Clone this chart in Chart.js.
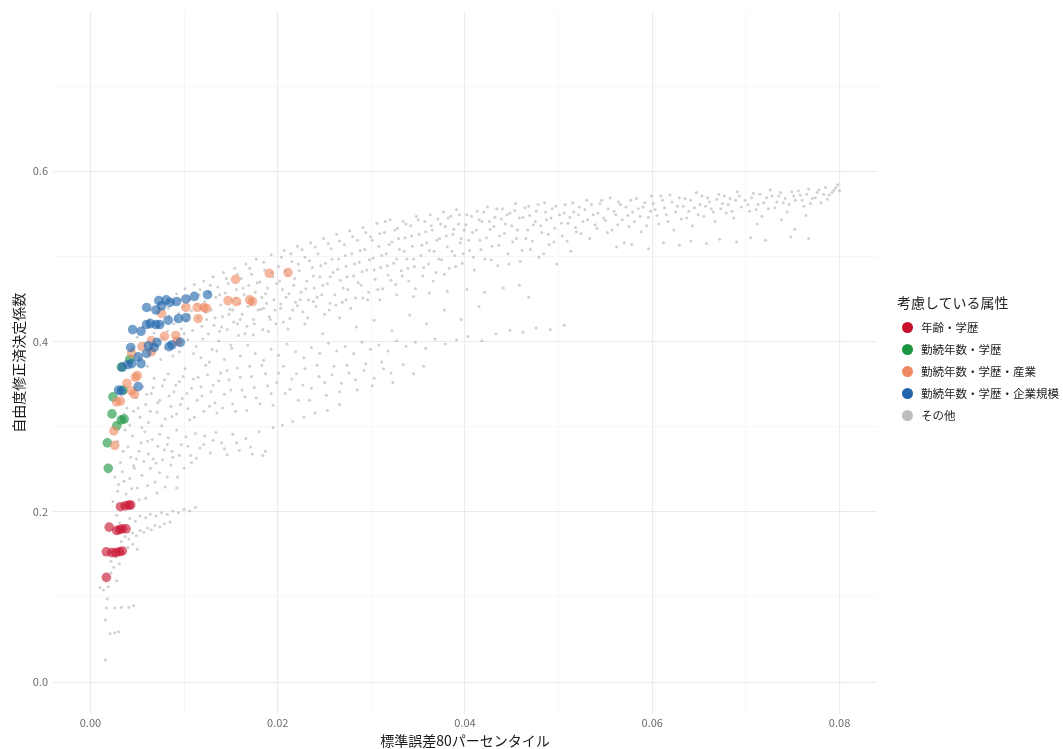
<!DOCTYPE html>
<html lang="ja">
<head>
<meta charset="utf-8">
<title>自由度修正済決定係数と標準誤差80パーセンタイル</title>
<script src="https://cdn.jsdelivr.net/npm/chart.js@4.4.1/dist/chart.umd.min.js"></script>
<style>
  html, body { margin: 0; padding: 0; background: #fff; }
  body { font-family: "Noto Sans CJK JP", "Noto Sans", sans-serif; }
  #wrap { position: relative; width: 1063px; height: 749px; }
  #legend { position: absolute; left: 897px; top: 292px; color: #222; }
  #legend .title { font-size: 14px; line-height: 21px; margin-bottom: 3px; }
  #legend .item { display: flex; align-items: center; height: 22px; font-size: 11.5px; }
  #legend .dot { width: 11px; height: 11px; border-radius: 50%; margin: 0 8px 0 5px; }
</style>
</head>
<body>
<div id="wrap">
  <canvas id="chart" width="1063" height="749"></canvas>
  <div id="legend"></div>
</div>
<script>
// Scatter: adjusted R^2 vs 80th percentile of standard errors
// values

const legendTitle = '考慮している属性';
const groupNames = ['年齢・学歴', '勤続年数・学歴', '勤続年数・学歴・産業', '勤続年数・学歴・企業規模', 'その他'];

const xMajor = [0, 0.02, 0.04, 0.06, 0.08];
const xMinor = [0.01, 0.03, 0.05, 0.07];
const yMajor = [0, 0.2, 0.4, 0.6];
const yMinor = [0.1, 0.3, 0.5, 0.7];

// 年齢・学歴
const ageEdu = [
  [0.0032,0.206],[0.0037,0.207],[0.0041,0.208],[0.0043,0.208],
  [0.0020,0.182],[0.0028,0.178],[0.0031,0.179],[0.0034,0.180],[0.0038,0.180],
  [0.0017,0.153],[0.0023,0.152],[0.0027,0.152],[0.0031,0.153],[0.0034,0.154],
  [0.0017,0.123]
];

// 勤続年数・学歴
const tenureEdu = [
  [0.0019,0.251],[0.0018,0.281],[0.0028,0.301],[0.0033,0.308],[0.0036,0.309],
  [0.0023,0.315],[0.0024,0.335],[0.0035,0.343],[0.0033,0.370],[0.0042,0.379]
];

// 勤続年数・学歴・産業
const tenureEduInd = [
  [0.0211,0.481],[0.0191,0.480],[0.0155,0.473],[0.0147,0.448],[0.0156,0.447],
  [0.0170,0.449],[0.0173,0.447],[0.0102,0.440],[0.0114,0.440],[0.0121,0.440],
  [0.0124,0.439],[0.0115,0.427],[0.0076,0.433],[0.0079,0.406],[0.0091,0.407],
  [0.0093,0.400],[0.0065,0.401],[0.0055,0.394],[0.0065,0.388],[0.0044,0.386],
  [0.0048,0.358],[0.0050,0.360],[0.0039,0.351],[0.0044,0.342],[0.0047,0.338],
  [0.0028,0.329],[0.0032,0.330],[0.0025,0.295],[0.0026,0.278]
];

// 勤続年数・学歴・企業規模
const tenureEduSize = [
  [0.0125,0.455],[0.0111,0.453],[0.0102,0.450],[0.0092,0.447],[0.0085,0.446],
  [0.0081,0.449],[0.0073,0.448],[0.0076,0.442],[0.0060,0.440],[0.0070,0.437],
  [0.0102,0.428],[0.0094,0.427],[0.0083,0.425],[0.0074,0.420],[0.0070,0.420],
  [0.0064,0.421],[0.0060,0.420],[0.0054,0.412],[0.0045,0.414],[0.0096,0.399],
  [0.0087,0.396],[0.0084,0.394],[0.0071,0.399],[0.0068,0.393],[0.0062,0.395],
  [0.0060,0.386],[0.0043,0.393],[0.0051,0.382],[0.0044,0.374],[0.0054,0.374],
  [0.0040,0.373],[0.0030,0.343],[0.0033,0.342],[0.0051,0.347],[0.0034,0.370]
];

// その他 : upper band
const otherUpper = [
  [0.0045,0.392],[0.0050,0.405],[0.0052,0.381],[0.0056,0.417],[0.0058,0.398],[0.0061,0.371],[0.0063,0.426],[0.0066,0.389],[0.0068,0.410],[0.0071,0.435],[0.0073,0.401],[0.0075,0.379],[0.0077,0.421],[0.0079,0.443],[0.0080,0.392],
  [0.0082,0.412],[0.0084,0.430],[0.0085,0.398],[0.0087,0.447],[0.0089,0.421],[0.0090,0.404],[0.0092,0.456],[0.0094,0.433],[0.0095,0.388],[0.0097,0.415],[0.0099,0.441],[0.0101,0.462],[0.0102,0.425],[0.0104,0.402],[0.0106,0.449],[0.0108,0.436],[0.0109,0.413],[0.0111,0.467],[0.0113,0.394],[0.0115,0.428],[0.0116,0.455],[0.0118,0.440],[0.0119,0.418],
  [0.0121,0.471],[0.0122,0.447],[0.0124,0.426],[0.0126,0.409],[0.0127,0.458],[0.0129,0.437],[0.0131,0.476],[0.0132,0.419],[0.0134,0.452],[0.0136,0.464],[0.0137,0.401],[0.0139,0.443],[0.0141,0.429],[0.0142,0.481],[0.0144,0.457],[0.0146,0.414],[0.0147,0.468],[0.0149,0.438],[0.0151,0.449],[0.0153,0.423],[0.0154,0.486],[0.0156,0.461],[0.0158,0.407],[0.0159,0.445],
  [0.0161,0.474],[0.0162,0.432],[0.0164,0.455],[0.0166,0.491],[0.0167,0.418],[0.0169,0.466],[0.0171,0.443],[0.0172,0.479],[0.0174,0.426],[0.0176,0.458],[0.0177,0.497],[0.0179,0.437],[0.0181,0.470],[0.0183,0.452],[0.0184,0.414],[0.0186,0.484],[0.0188,0.445],[0.0189,0.463],[0.0191,0.429],[0.0193,0.502],[0.0195,0.476],[0.0196,0.449],[0.0198,0.421],[0.0199,0.468],
  [0.0201,0.488],[0.0203,0.439],[0.0205,0.461],[0.0207,0.507],[0.0209,0.452],[0.0211,0.478],[0.0213,0.427],[0.0215,0.494],[0.0217,0.466],[0.0219,0.446],[0.0221,0.512],[0.0223,0.483],[0.0225,0.458],[0.0227,0.435],[0.0229,0.499],[0.0231,0.471],[0.0233,0.449],[0.0235,0.516],[0.0237,0.487],[0.0239,0.463],[0.0241,0.441],[0.0243,0.503],[0.0245,0.476],[0.0247,0.455],[0.0249,0.521],
  [0.0251,0.492],[0.0253,0.468],[0.0255,0.437],[0.0257,0.509],[0.0259,0.481],[0.0261,0.455],[0.0263,0.526],[0.0265,0.497],[0.0267,0.472],[0.0269,0.446],[0.0271,0.514],[0.0273,0.488],[0.0275,0.461],[0.0277,0.530],[0.0279,0.503],[0.0281,0.477],[0.0283,0.451],[0.0285,0.519],[0.0287,0.493],[0.0289,0.466],[0.0291,0.534],[0.0293,0.508],[0.0295,0.484],[0.0297,0.458],[0.0299,0.523],
  [0.0302,0.498],[0.0304,0.473],[0.0306,0.539],[0.0308,0.512],[0.0310,0.487],[0.0312,0.462],[0.0314,0.528],[0.0316,0.503],[0.0318,0.478],[0.0320,0.543],[0.0322,0.517],[0.0324,0.492],[0.0326,0.467],[0.0328,0.533],[0.0330,0.508],[0.0332,0.483],[0.0334,0.541],[0.0336,0.522],[0.0338,0.497],[0.0340,0.471],[0.0342,0.536],[0.0344,0.512],[0.0346,0.488],[0.0348,0.547],
  [0.0351,0.526],[0.0353,0.501],[0.0355,0.477],[0.0357,0.541],[0.0359,0.516],[0.0361,0.491],[0.0363,0.549],[0.0365,0.531],[0.0367,0.506],[0.0369,0.481],[0.0371,0.544],[0.0373,0.521],[0.0375,0.496],[0.0377,0.552],[0.0379,0.535],[0.0381,0.511],[0.0383,0.486],[0.0385,0.547],[0.0387,0.526],[0.0389,0.501],[0.0391,0.555],[0.0393,0.538],[0.0395,0.516],[0.0397,0.492],[0.0399,0.531],
  [0.0402,0.549],[0.0405,0.507],[0.0408,0.528],[0.0410,0.484],[0.0413,0.553],[0.0416,0.519],[0.0418,0.541],[0.0421,0.497],[0.0424,0.558],[0.0427,0.532],[0.0429,0.512],[0.0432,0.546],[0.0435,0.489],[0.0437,0.524],[0.0440,0.556],[0.0443,0.538],[0.0446,0.503],[0.0448,0.551],[0.0451,0.517],[0.0454,0.562],[0.0456,0.531],[0.0459,0.494],
  [0.0462,0.546],[0.0465,0.521],[0.0468,0.559],[0.0470,0.508],[0.0473,0.537],[0.0476,0.553],[0.0479,0.499],[0.0482,0.528],[0.0485,0.563],[0.0487,0.543],[0.0490,0.514],[0.0493,0.556],[0.0496,0.533],[0.0498,0.491],[0.0501,0.549],[0.0504,0.524],[0.0507,0.561],[0.0510,0.539],[0.0513,0.506],[0.0516,0.552],[0.0519,0.529],
  [0.0522,0.558],[0.0526,0.541],[0.0530,0.566],[0.0533,0.521],[0.0537,0.549],[0.0541,0.533],[0.0544,0.562],[0.0548,0.545],[0.0552,0.528],[0.0555,0.569],[0.0559,0.553],[0.0563,0.537],[0.0566,0.561],[0.0570,0.516],[0.0574,0.548],[0.0577,0.566],[0.0581,0.541],[0.0585,0.556],[0.0588,0.529],[0.0592,0.563],[0.0596,0.546],[0.0599,0.571],
  [0.0603,0.555],[0.0607,0.538],[0.0611,0.566],[0.0615,0.549],[0.0619,0.572],[0.0623,0.531],[0.0627,0.559],[0.0631,0.544],[0.0635,0.568],[0.0639,0.553],[0.0643,0.536],[0.0647,0.575],[0.0651,0.561],[0.0655,0.547],[0.0659,0.569],[0.0663,0.556],[0.0667,0.541],[0.0671,0.573],[0.0675,0.562],[0.0679,0.551],[0.0683,0.568],[0.0687,0.545],[0.0691,0.576],[0.0695,0.558],
  [0.0699,0.566],[0.0704,0.553],[0.0708,0.574],[0.0713,0.561],[0.0717,0.547],[0.0722,0.569],[0.0726,0.578],[0.0731,0.557],[0.0735,0.571],[0.0740,0.563],[0.0744,0.552],[0.0749,0.576],[0.0753,0.566],[0.0758,0.572],[0.0762,0.559],[0.0767,0.579],[0.0771,0.568],[0.0776,0.575],[0.0780,0.563],[0.0785,0.581],[0.0789,0.572],[0.0794,0.578],[0.0798,0.584],[0.0800,0.577],
  [0.0712,0.538],[0.0738,0.543],[0.0764,0.548],[0.0752,0.532]
];

// その他 : more of the upper band (it is the densest part)
const otherUpper2 = [
  [0.0064,0.437],[0.0069,0.396],[0.0072,0.418],[0.0078,0.404],[0.0083,0.439],[0.0088,0.383],[0.0091,0.426],[0.0096,0.449],[0.0100,0.409],[0.0105,0.431],[0.0110,0.386],[0.0114,0.444],[0.0117,0.461],[0.0120,0.403],
  [0.0123,0.434],[0.0128,0.466],[0.0130,0.391],[0.0133,0.428],[0.0138,0.455],[0.0140,0.417],[0.0145,0.474],[0.0148,0.432],[0.0150,0.396],[0.0155,0.451],[0.0157,0.479],[0.0160,0.426],[0.0163,0.463],[0.0165,0.409],[0.0170,0.486],[0.0173,0.447],[0.0175,0.421],[0.0178,0.469],[0.0182,0.438],[0.0185,0.493],[0.0187,0.456],[0.0190,0.412],[0.0194,0.481],[0.0197,0.437],
  [0.0202,0.471],[0.0204,0.499],[0.0206,0.423],[0.0208,0.483],[0.0212,0.456],[0.0214,0.503],[0.0216,0.437],[0.0218,0.474],[0.0222,0.491],[0.0224,0.449],[0.0226,0.508],[0.0230,0.462],[0.0232,0.428],[0.0234,0.495],[0.0238,0.477],[0.0240,0.511],[0.0242,0.452],[0.0246,0.489],[0.0248,0.466],[0.0250,0.432],[0.0254,0.515],[0.0256,0.476],[0.0258,0.497],[0.0262,0.443],[0.0264,0.485],[0.0266,0.518],[0.0270,0.463],[0.0272,0.501],[0.0274,0.476],[0.0278,0.439],[0.0280,0.523],[0.0282,0.491],[0.0286,0.469],[0.0288,0.507],[0.0290,0.482],[0.0294,0.528],[0.0296,0.449],[0.0298,0.496],
  [0.0301,0.519],[0.0303,0.484],[0.0307,0.461],[0.0309,0.527],[0.0311,0.501],[0.0315,0.541],[0.0317,0.489],[0.0319,0.514],[0.0321,0.472],[0.0325,0.531],[0.0327,0.497],[0.0329,0.521],[0.0333,0.477],[0.0335,0.506],[0.0337,0.538],[0.0339,0.486],[0.0343,0.524],[0.0345,0.497],[0.0347,0.462],[0.0350,0.543],[0.0354,0.513],[0.0356,0.487],[0.0358,0.529],[0.0362,0.507],[0.0364,0.536],[0.0366,0.471],[0.0370,0.519],[0.0372,0.497],[0.0374,0.538],[0.0378,0.479],[0.0380,0.524],[0.0382,0.545],[0.0386,0.506],[0.0388,0.532],[0.0390,0.488],[0.0394,0.549],[0.0396,0.521],[0.0398,0.503],
  [0.0401,0.537],[0.0404,0.519],[0.0407,0.547],[0.0409,0.499],[0.0412,0.531],[0.0415,0.543],[0.0417,0.508],[0.0420,0.552],[0.0423,0.522],[0.0426,0.541],[0.0428,0.496],[0.0431,0.535],[0.0434,0.556],[0.0436,0.513],[0.0439,0.544],[0.0442,0.527],[0.0445,0.549],[0.0447,0.491],[0.0450,0.536],[0.0453,0.554],[0.0455,0.521],[0.0458,0.545],[0.0461,0.507],[0.0464,0.557],[0.0467,0.531],[0.0469,0.548],[0.0472,0.518],[0.0475,0.541],[0.0478,0.561],[0.0481,0.536],[0.0484,0.503],[0.0486,0.552],[0.0489,0.526],[0.0492,0.545],[0.0495,0.517],[0.0497,0.559],
  [0.0503,0.539],[0.0506,0.551],[0.0509,0.518],[0.0512,0.546],[0.0515,0.563],[0.0518,0.534],[0.0521,0.549],[0.0524,0.527],[0.0528,0.555],[0.0531,0.543],[0.0535,0.561],[0.0539,0.537],[0.0542,0.551],[0.0546,0.566],[0.0550,0.542],[0.0553,0.556],[0.0557,0.531],[0.0561,0.549],[0.0564,0.564],[0.0568,0.543],[0.0572,0.558],[0.0575,0.535],[0.0579,0.552],[0.0583,0.568],[0.0587,0.547],[0.0590,0.558],[0.0594,0.536],[0.0598,0.553],
  [0.0601,0.562],[0.0605,0.548],[0.0609,0.571],[0.0613,0.557],[0.0617,0.541],[0.0621,0.564],[0.0625,0.552],[0.0629,0.569],[0.0633,0.559],[0.0637,0.545],[0.0641,0.566],[0.0645,0.557],[0.0649,0.549],[0.0653,0.571],[0.0657,0.559],[0.0661,0.564],[0.0665,0.552],[0.0669,0.567],[0.0673,0.556],[0.0677,0.571],[0.0681,0.561],[0.0685,0.553],[0.0689,0.566],[0.0693,0.571],
  [0.0702,0.561],[0.0706,0.569],[0.0711,0.555],[0.0715,0.573],[0.0719,0.563],[0.0724,0.556],[0.0728,0.571],[0.0733,0.564],[0.0737,0.575],[0.0742,0.568],[0.0746,0.561],[0.0751,0.571],[0.0756,0.577],[0.0760,0.566],[0.0765,0.573],[0.0769,0.562],[0.0774,0.569],[0.0778,0.578],[0.0783,0.573],[0.0787,0.567],[0.0792,0.575],[0.0796,0.581]
];

// その他 : thin strips below the upper band
const otherStrips = [
  [0.0562,0.511],[0.0578,0.514],[0.0596,0.509],[0.0612,0.516],[0.0629,0.513],[0.0641,0.518],[0.0658,0.515],[0.0672,0.520],[0.0690,0.517],[0.0705,0.522],[0.0721,0.519],[0.0748,0.523],[0.0767,0.521],
  [0.0152,0.437],[0.0168,0.441],[0.0185,0.439],[0.0203,0.444],[0.0221,0.442],[0.0238,0.447],[0.0256,0.445],[0.0273,0.449],[0.0291,0.451],[0.0309,0.449],[0.0327,0.455],[0.0345,0.453],[0.0362,0.457],[0.0381,0.459],[0.0402,0.461],[0.0421,0.458],[0.0441,0.463],[0.0458,0.466],[0.0468,0.452],
  [0.0118,0.381],[0.0127,0.376],[0.0135,0.389],[0.0143,0.379],[0.0151,0.392],[0.0160,0.383],[0.0168,0.396],[0.0176,0.386],[0.0185,0.378],[0.0193,0.391],[0.0201,0.384],[0.0210,0.397],[0.0219,0.388],[0.0228,0.381],[0.0236,0.393],[0.0245,0.386],[0.0254,0.398],[0.0263,0.389],[0.0272,0.394],[0.0281,0.386],[0.0290,0.399],[0.0299,0.391],[0.0308,0.396],[0.0318,0.389],[0.0327,0.401],[0.0337,0.394],[0.0347,0.399],[0.0358,0.392],[0.0368,0.403],[0.0379,0.397],[0.0391,0.402],[0.0403,0.406],[0.0418,0.401],[0.0433,0.409],[0.0448,0.413],[0.0462,0.411],[0.0476,0.416],[0.0491,0.414],[0.0506,0.419],
  [0.0138,0.412],[0.0157,0.421],[0.0174,0.408],[0.0192,0.426],[0.0211,0.415],[0.0229,0.421],[0.0248,0.409],[0.0266,0.428],[0.0284,0.417],[0.0303,0.425],[0.0322,0.413],[0.0341,0.431],[0.0359,0.421],[0.0378,0.437],[0.0396,0.426],[0.0415,0.441]
];

// その他 : lower bands (small x)
const otherLower = [
  [0.0042,0.302],[0.0046,0.318],[0.0049,0.334],[0.0053,0.311],[0.0056,0.347],[0.0059,0.326],[0.0062,0.305],[0.0065,0.339],[0.0068,0.357],[0.0071,0.317],[0.0074,0.331],[0.0077,0.348],[0.0080,0.309],[0.0083,0.362],[0.0086,0.324],[0.0089,0.341],[0.0092,0.315],[0.0095,0.353],[0.0098,0.333],[0.0101,0.368],[0.0104,0.321],[0.0108,0.345],[0.0111,0.311],[0.0115,0.358],[0.0119,0.336],[0.0123,0.372],[0.0127,0.324],[0.0131,0.349],[0.0135,0.316],[0.0139,0.363],[0.0143,0.338],[0.0148,0.355],[0.0152,0.327],[0.0157,0.369],[0.0162,0.343],[0.0167,0.319],[0.0172,0.359],[0.0177,0.334],[0.0183,0.372],[0.0189,0.348],[0.0195,0.325],[0.0201,0.363],[0.0208,0.339],[0.0215,0.356],[0.0222,0.331],[0.0229,0.368],[0.0236,0.345],[0.0244,0.359],[0.0252,0.337],[0.0260,0.371],[0.0268,0.351],[0.0276,0.363],[0.0285,0.343],[0.0294,0.374],[0.0303,0.357],[0.0313,0.368],[0.0323,0.352],[0.0334,0.373],[0.0345,0.362],[0.0356,0.371],
  [0.0051,0.322],[0.0055,0.299],[0.0060,0.338],[0.0064,0.318],[0.0067,0.346],[0.0072,0.328],[0.0076,0.301],[0.0079,0.355],[0.0084,0.336],[0.0087,0.312],[0.0091,0.349],[0.0096,0.326],[0.0099,0.359],[0.0103,0.339],[0.0106,0.308],[0.0110,0.356],[0.0114,0.331],[0.0118,0.347],[0.0121,0.318],[0.0125,0.361],[0.0129,0.341],[0.0133,0.328],[0.0137,0.354],[0.0141,0.322],[0.0146,0.366],[0.0150,0.343],[0.0155,0.318],[0.0160,0.358],[0.0165,0.335],[0.0170,0.371],[0.0175,0.346],[0.0181,0.327],[0.0187,0.362],[0.0193,0.339],[0.0199,0.352],[0.0206,0.371],[0.0213,0.344],[0.0220,0.362],[0.0227,0.349],[0.0234,0.331],[0.0242,0.372],[0.0250,0.352],[0.0258,0.361],[0.0266,0.341],[0.0274,0.372],[0.0283,0.355],[0.0292,0.366],[0.0301,0.348],[0.0311,0.376],[0.0321,0.363],
  [0.0040,0.276],[0.0045,0.289],[0.0049,0.262],[0.0054,0.281],[0.0058,0.294],[0.0062,0.268],[0.0066,0.285],[0.0070,0.257],[0.0074,0.291],[0.0079,0.273],[0.0083,0.287],[0.0088,0.264],[0.0092,0.296],[0.0097,0.279],[0.0102,0.288],[0.0107,0.266],[0.0112,0.292],[0.0117,0.275],[0.0122,0.289],[0.0128,0.269],[0.0134,0.293],[0.0140,0.281],[0.0146,0.267],[0.0152,0.291],[0.0159,0.272],[0.0166,0.286],[0.0173,0.268],[0.0180,0.294],[0.0187,0.271],[0.0195,0.299],[0.0205,0.302],[0.0216,0.306],[0.0228,0.311],[0.0240,0.316],[0.0253,0.319],[0.0266,0.326],
  [0.0043,0.264],[0.0047,0.251],[0.0052,0.271],[0.0057,0.259],[0.0061,0.283],[0.0067,0.262],[0.0072,0.277],[0.0077,0.261],[0.0082,0.279],[0.0087,0.271],[0.0095,0.266],[0.0104,0.277],[0.0113,0.263],[0.0121,0.279],[0.0131,0.284],[0.0143,0.274],[0.0156,0.281],[0.0171,0.276],[0.0184,0.266],
  [0.0030,0.232],[0.0034,0.247],[0.0038,0.221],[0.0042,0.239],[0.0046,0.254],[0.0050,0.228],[0.0055,0.243],[0.0059,0.216],[0.0064,0.251],[0.0069,0.235],[0.0074,0.246],[0.0080,0.229],[0.0086,0.255],[0.0093,0.241],[0.0100,0.251],[0.0108,0.258],
  [0.0036,0.236],[0.0044,0.227],[0.0052,0.214],[0.0061,0.231],[0.0071,0.222],[0.0082,0.241],[0.0092,0.228],
  [0.0042,0.192],[0.0048,0.189],[0.0053,0.195],[0.0059,0.193],[0.0064,0.197],[0.0070,0.195],[0.0076,0.199],[0.0082,0.197],[0.0088,0.201],[0.0094,0.199],[0.0100,0.203],[0.0106,0.201],[0.0112,0.205],
  [0.0033,0.165],[0.0037,0.171],[0.0041,0.168],[0.0045,0.175],[0.0049,0.172],[0.0053,0.178],[0.0057,0.176],[0.0061,0.181],[0.0065,0.179],[0.0069,0.184],[0.0074,0.182],[0.0079,0.186],[0.0085,0.188],
  [0.0022,0.142],[0.0027,0.147],[0.0031,0.139],[0.0036,0.151],[0.0040,0.158],[0.0045,0.162],[0.0050,0.156]
];

// その他 : scattered points near the left edge
const otherScatter = [
  [0.0016,0.026],[0.0021,0.057],[0.0026,0.058],[0.0030,0.059],[0.0016,0.073],[0.0017,0.087],[0.0026,0.087],[0.0033,0.088],[0.0041,0.088],[0.0046,0.090],
  [0.0010,0.111],[0.0014,0.108],[0.0019,0.112],[0.0028,0.119],[0.0022,0.128],[0.0025,0.135],[0.0018,0.098],
  [0.0024,0.212],[0.0029,0.224],[0.0026,0.241],[0.0032,0.258],[0.0035,0.271],[0.0029,0.283],[0.0037,0.296],[0.0033,0.311],[0.0039,0.322],[0.0028,0.196],[0.0031,0.187],[0.0036,0.315]
];

const colors = ['#C8102E', '#1A9641', '#EF8A62', '#2166AC', '#BDBDBD'];

function toPts(arr){ return arr.map(p => ({ x: p[0], y: p[1] })); }
function withAlpha(hex, a){
  const n = parseInt(hex.slice(1), 16);
  return 'rgba(' + (n >> 16) + ',' + ((n >> 8) & 255) + ',' + (n & 255) + ',' + a + ')';
}
function isMajor(list, v){ return list.some(t => Math.abs(t - v) < 1e-9); }

const groups = [ageEdu, tenureEdu, tenureEduInd, tenureEduSize];
const drawOrder = [4, 3, 2, 1]; // blue on top, grey at the bottom

const datasets = groups.map((g, i) => ({
  label: groupNames[i],
  data: toPts(g),
  backgroundColor: withAlpha(colors[i], 0.62),
  borderWidth: 0,
  pointRadius: 4.8,
  order: drawOrder[i]
}));
datasets.push({
  label: groupNames[4],
  data: toPts([].concat(otherUpper, otherUpper2, otherStrips, otherLower, otherScatter)),
  backgroundColor: 'rgba(150,150,150,0.45)',
  borderWidth: 0,
  pointRadius: 1.5,
  order: 9
});

const axisFont = { family: '"Noto Sans CJK JP", "Noto Sans", sans-serif', size: 11 };
const titleFont = { family: '"Noto Sans CJK JP", "Noto Sans", sans-serif', size: 14 };

new Chart(document.getElementById('chart').getContext('2d'), {
  type: 'scatter',
  data: { datasets },
  options: {
    responsive: false,
    animation: false,
    devicePixelRatio: 1,
    layout: { padding: { left: 0, right: 186, top: 7, bottom: 0 } },
    plugins: { legend: { display: false }, tooltip: { enabled: false } },
    scales: {
      x: {
        type: 'linear', min: -0.004, max: 0.084,
        afterBuildTicks: s => { s.ticks = xMajor.concat(xMinor).sort((a,b) => a-b).map(v => ({ value: v })); },
        afterFit: s => { s.height = 35; },
        border: { display: false },
        grid: {
          drawTicks: false,
          color: c => isMajor(xMajor, c.tick.value) ? '#EBEBEB' : '#F4F4F4',
          lineWidth: c => isMajor(xMajor, c.tick.value) ? 1.1 : 0.8
        },
        ticks: {
          autoSkip: false, maxRotation: 0, padding: 2,
          color: '#6b6b6b', font: axisFont,
          callback: v => isMajor(xMajor, v) ? v.toFixed(2) : ''
        },
        title: { display: true, text: '標準誤差80パーセンタイル', color: '#1a1a1a', font: titleFont, padding: { top: 2, bottom: 0 } }
      },
      y: {
        type: 'linear', min: -0.0375, max: 0.7875,
        afterBuildTicks: s => { s.ticks = yMajor.concat(yMinor).sort((a,b) => a-b).map(v => ({ value: v })); },
        afterFit: s => { s.width = 53; },
        border: { display: false },
        grid: {
          drawTicks: false,
          color: c => isMajor(yMajor, c.tick.value) ? '#EBEBEB' : '#F4F4F4',
          lineWidth: c => isMajor(yMajor, c.tick.value) ? 1.1 : 0.8
        },
        ticks: {
          autoSkip: false, padding: 5,
          color: '#6b6b6b', font: axisFont,
          callback: v => isMajor(yMajor, v) ? v.toFixed(1) : ''
        },
        title: { display: true, text: '自由度修正済決定係数', color: '#1a1a1a', font: titleFont, padding: { top: 10, bottom: 0 } }
      }
    }
  }
});

// legend as html
const legendEl = document.getElementById('legend');
legendEl.innerHTML = '<div class="title">' + legendTitle + '</div>' +
  groupNames.map((n, i) => '<div class="item"><span class="dot" style="background:' + colors[i] + '"></span>' + n + '</div>').join('');
</script>
</body>
</html>
